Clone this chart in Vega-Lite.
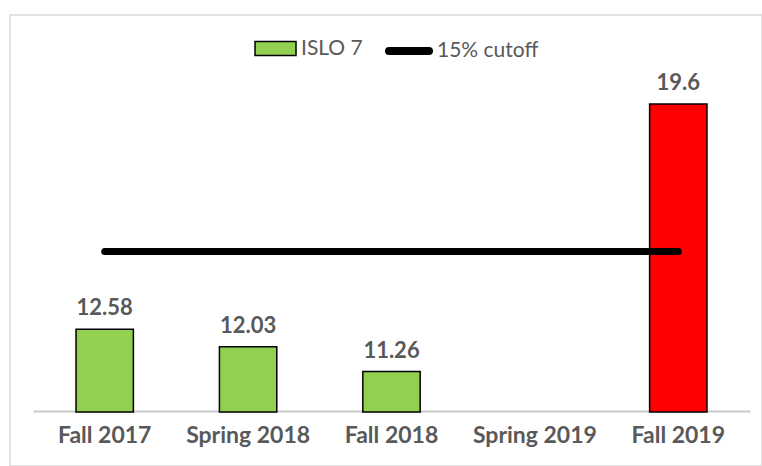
{
  "$schema": "https://vega.github.io/schema/vega-lite/v6.json",
  "autosize": "none",
  "width": 752,
  "height": 451,
  "padding": {"left": 10, "top": 15, "right": 0, "bottom": 0},
  "background": "white",
  "config": {"view": {"stroke": "#d9d9d9", "strokeWidth": 1.5}, "font": "Lato"},
  "datasets": {
    "bars": [
      {"term": "Fall 2017", "value": 12.58, "series": "ISLO 7"},
      {"term": "Spring 2018", "value": 12.03, "series": "ISLO 7"},
      {"term": "Fall 2018", "value": 11.26, "series": "ISLO 7"},
      {"term": "Fall 2019", "value": 19.6, "series": "Above cutoff"}
    ],
    "cutoff": [
      {"term": "Fall 2017", "value": 15, "series": "15% cutoff"},
      {"term": "Spring 2018", "value": 15, "series": "15% cutoff"},
      {"term": "Fall 2018", "value": 15, "series": "15% cutoff"},
      {"term": "Spring 2019", "value": 15, "series": "15% cutoff"},
      {"term": "Fall 2019", "value": 15, "series": "15% cutoff"}
    ]
  },
  "encoding": {
    "x": {
      "field": "term",
      "type": "nominal",
      "sort": null,
      "scale": {
        "domain": ["Fall 2017", "Spring 2018", "Fall 2018", "Spring 2019", "Fall 2019"],
        "range": [23, 740],
        "paddingInner": 0.6,
        "paddingOuter": 0.3
      },
      "axis": {
        "title": null,
        "labelAngle": 0,
        "ticks": false,
        "domainColor": "#c8c8c8",
        "domainWidth": 2,
        "labelFont": "Lato",
        "labelFontWeight": "bold",
        "labelFontSize": 23,
        "labelColor": "#595959",
        "labelPadding": 13,
        "offset": -55
      }
    }
  },
  "layer": [
    {
      "data": {"name": "bars"},
      "mark": {"type": "bar", "stroke": "black", "strokeWidth": 1.5},
      "encoding": {
        "y": {"field": "value", "type": "quantitative", "scale": {"domain": [10, 22], "range": [397, 12], "zero": false}, "axis": null},
        "y2": {"datum": 10},
        "fill": {
          "field": "series",
          "type": "nominal",
          "scale": {"domain": ["ISLO 7", "Above cutoff"], "range": ["#92d050", "#ff0000"]},
          "legend": {
            "title": null,
            "orient": "none",
            "legendX": 244,
            "legendY": 12,
            "values": ["ISLO 7"],
            "symbolType": "M-1,-0.34H1V0.34H-1Z",
            "symbolSize": 1681,
            "symbolStrokeColor": "black",
            "symbolStrokeWidth": 1.5,
            "symbolOpacity": 1,
            "labelFontSize": 21,
            "labelColor": "#595959",
            "labelFont": "Lato",
            "labelOffset": 4,
            "padding": 0
          }
        }
      }
    },
    {
      "data": {"name": "bars"},
      "mark": {"type": "text", "dy": -14, "fontSize": 22, "fontWeight": "bold", "color": "#595959", "baseline": "alphabetic", "font": "Lato"},
      "encoding": {
        "y": {"field": "value", "type": "quantitative"},
        "text": {"field": "value", "type": "nominal"}
      }
    },
    {
      "data": {"name": "cutoff"},
      "mark": {"type": "line", "strokeWidth": 7, "strokeCap": "round"},
      "encoding": {
        "y": {"field": "value", "type": "quantitative"},
        "stroke": {
          "field": "series",
          "type": "nominal",
          "scale": {"domain": ["15% cutoff"], "range": ["#000000"]},
          "legend": {
            "title": null,
            "orient": "none",
            "legendX": 375,
            "legendY": 12,
            "symbolType": "stroke",
            "symbolSize": 1600,
            "symbolStrokeWidth": 8,
            "symbolStrokeColor": "black",
            "symbolOpacity": 1,
            "labelFontSize": 21,
            "labelColor": "#595959",
            "labelFont": "Lato",
            "labelOffset": 4,
            "padding": 0,
            "encode": {"symbols": {"update": {"strokeCap": {"value": "round"}}}}
          }
        }
      }
    }
  ]
}
